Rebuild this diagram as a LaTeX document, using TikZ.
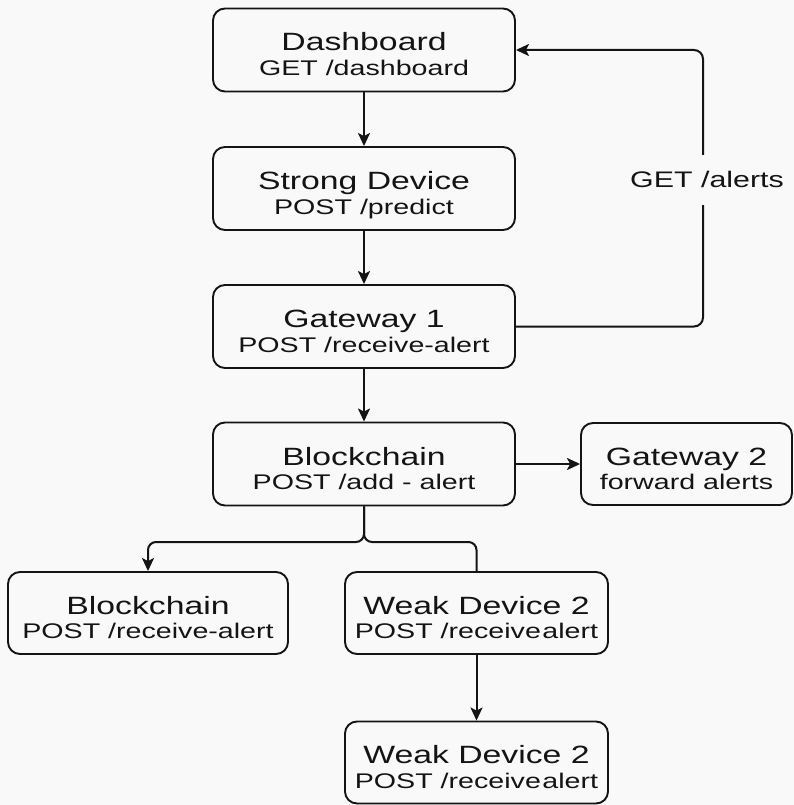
\documentclass[tikz,border=0pt]{standalone}
\usepackage{fontspec}
\setmainfont{Liberation Sans}[FakeStretch=1.35]
\usetikzlibrary{arrows.meta}

\definecolor{bg}{RGB}{249,249,249}
\definecolor{ink}{RGB}{20,20,20}

\newcommand\titlefont{\fontsize{25pt}{24.5pt}\selectfont}
\newcommand\subfont{\fontsize{21.2pt}{24.5pt}\selectfont}
\newcommand\loopfont{\fontsize{22.5pt}{24.5pt}\selectfont}
% two centred lines; the box is raised so the node centre sits just above the title baseline
\newcommand\boxlabel[2]{\raisebox{0pt}[51pt][0pt]{\vbox{\baselineskip=24.5pt\lineskiplimit=-100pt
  \halign{\hfil##\hfil\cr\titlefont #1\cr\subfont #2\cr}}}}

\begin{document}
\begin{tikzpicture}[x=1pt, y=-1pt,
  box/.style={draw=ink, line width=1.9pt, rounded corners=12pt, inner sep=0pt, fill=bg, text=ink},
  mainbox/.style={box, minimum width=302pt, minimum height=83pt},
  sidebox/.style={box, minimum width=211pt, minimum height=82pt},
  leftbox/.style={box, minimum width=280pt, minimum height=82pt},
  weakbox/.style={box, minimum width=263pt, minimum height=82pt},
  conn/.style={draw=ink, line width=2pt},
  arr/.style={conn, -{Stealth[length=13pt, width=12pt, inset=3pt]}},
  lbl/.style={font=\loopfont, text=ink, fill=bg, inner xsep=2pt, inner ysep=0pt,
              minimum height=50pt, text height=16pt, text depth=0pt}]

\fill[bg] (0,0) rectangle (794,805);
\useasboundingbox (0,0) rectangle (794,805);

% main column
\node[mainbox] (dash)   at (364,50)    {\boxlabel{Dashboard}{GET /dashboard}};
\node[mainbox] (strong) at (364,188.5) {\boxlabel{Strong Device}{POST /predict}};
\node[mainbox] (gw1)    at (364,326.5) {\boxlabel{Gateway 1}{POST /receive-alert}};
\node[mainbox] (bc)     at (364,464)   {\boxlabel{Blockchain}{POST /add - alert}};
\node[sidebox] (gw2)    at (686.5,464) {\boxlabel{Gateway 2}{forward alerts}};

% lower rows
\node[leftbox] (bcl) at (148,613)     {\boxlabel{Blockchain}{POST /receive-alert}};
\node[weakbox] (wd1) at (476.5,613)   {\boxlabel{Weak Device 2}{POST /receive\kern1.5pt alert}};
\node[weakbox] (wd2) at (476.5,762.5) {\boxlabel{Weak Device 2}{POST /receive\kern1.5pt alert}};

% straight connectors
\draw[arr] (dash.south)   -- (strong.north);
\draw[arr] (strong.south) -- (gw1.north);
\draw[arr] (gw1.south)    -- (bc.north);
\draw[arr] (bc.east)      -- (gw2.west);
\draw[arr] (wd1.south)    -- (wd2.north);

% feedback loop from Gateway 1 back to the dashboard
\coordinate (loop) at (703,50);
\draw[arr, rounded corners=9pt] (gw1.east) -| (loop) -- (dash.east);
\node[lbl] (getalerts) at (707,180) {GET /alerts};

% split below the blockchain box
\coordinate (split) at (364,542);
\draw[arr, rounded corners=8pt] (bc.south) |- (split -| bcl.north) -- (bcl.north);
\draw[conn, rounded corners=8pt] (bc.south) |- (split -| wd1.north) -- (wd1.north);

\end{tikzpicture}
\end{document}
